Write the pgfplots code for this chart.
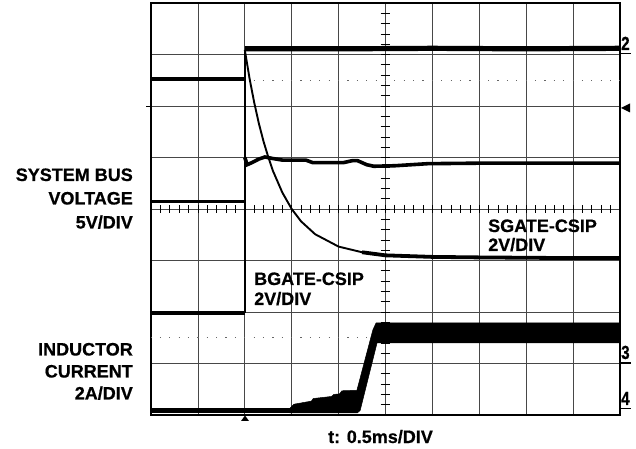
\documentclass[border=0pt]{standalone}
\usepackage{pgfplots}
\pgfplotsset{compat=1.18}
\usepackage{fontspec}
\setmainfont{Liberation Sans}
\newfontfamily\heavy[FakeBold=0.7]{Liberation Sans Bold}
\begin{document}
\begin{tikzpicture}
\useasboundingbox (0bp,0bp) rectangle (636bp,449bp);
\fill[white] (0bp,0bp) rectangle (636bp,449bp);
\begin{axis}[at={(151bp,34bp)}, anchor=south west, scale only axis,
  width=469bp, height=412bp, xmin=0, xmax=10, ymin=0, ymax=8,
  xtick={0,...,10}, ytick={0,...,8}, xticklabels={}, yticklabels={},
  major tick length=0pt, grid=major,
  major grid style={black!72, line width=0.8bp},
  axis line style={line width=1.3bp, black}, clip=false]
% dotted reference lines
\draw[black!60, line width=1.1bp, dash pattern=on 1.2bp off 8.18bp, dash phase=0.6bp] (axis cs:0,6.49) -- (axis cs:10,6.49);
\draw[black!60, line width=1.1bp, dash pattern=on 1.2bp off 8.18bp, dash phase=0.6bp] (axis cs:0,1.50) -- (axis cs:10,1.50);
% minor ticks on the centre lines
\pgfplotsinvokeforeach{1,...,49}{\draw[black, line width=0.8bp] (axis cs:0.2*#1,3.925) -- (axis cs:0.2*#1,4.075);}
\pgfplotsinvokeforeach{1,...,39}{\draw[black, line width=0.8bp] (axis cs:4.895,0.2*#1) -- (axis cs:5.105,0.2*#1);}
% trace A (top)
\addplot[black, line width=3.6bp] coordinates {(0,6.52) (2.0,6.52)};
\addplot[black, line width=5.2bp] coordinates {(2.0,7.11) (4,7.11) (6,7.12) (8,7.11) (10,7.12)};
% trace B (system bus voltage)
\addplot[black, line width=3.4bp] coordinates {(0,4.14) (2.0,4.14)};
\addplot[black, line width=2bp] coordinates {(2.0,4.14) (2.0,5.0)};
\addplot[black, line width=3.6bp] coordinates {(2.0,5.0) (2.05,4.86) (2.15,4.90) (2.3,4.97) (2.43,5.01) (2.6,4.98) (2.8,4.95) (3.3,4.95) (3.45,4.90) (4.1,4.90) (4.3,4.94) (4.4,4.94) (4.6,4.86) (4.75,4.83) (5.2,4.84) (5.9,4.88) (7,4.89) (8.5,4.89) (10,4.89)};
% trace C (BGATE-CSIP)
\addplot[black, line width=3.6bp] coordinates {(0,1.98) (2.0,1.98)};
\addplot[black, line width=2bp] coordinates {(2.0,1.98) (2.0,7.09)};
\addplot[black, line width=1.9bp] coordinates {(2.0,7.09) (2.1,6.54) (2.2,6.07) (2.3,5.66) (2.4,5.31) (2.5,5.01) (2.6,4.74) (2.8,4.32) (3.0,4.00) (3.2,3.76) (3.5,3.51) (4.0,3.27) (4.5,3.16)};
\addplot[black, line width=3.8bp] coordinates {(4.5,3.16) (5.0,3.10) (6,3.07) (7,3.06) (8.5,3.05) (10,3.05)};
% trace D (inductor current)
\addplot[black, line width=4.5bp] coordinates {(0,0.09) (2.98,0.09)};
\addplot[black, fill=black, line width=0.5bp] coordinates {(2.96,0.04) (2.96,0.13) (3.05,0.21) (3.3,0.25) (3.42,0.27) (3.46,0.32) (3.85,0.36) (3.9,0.40) (4.02,0.41) (4.07,0.47) (4.39,0.48) (4.73,1.65) (4.80,1.79) (10,1.79) (10,1.40) (4.82,1.40) (4.46,0.09) (4.40,0.04)} -- cycle;
\end{axis}
% channel markers
\tikzset{dig/.style={font=\fontsize{19bp}{19bp}\selectfont\heavy, inner sep=0pt, xscale=0.8}}
\node[dig, anchor=base west] at (621bp,399bp) {2};
\draw[line width=1.8bp] (621bp,395.5bp) -- (631bp,395.5bp);
\node[dig, anchor=base west] at (621bp,90bp) {3};
\draw[line width=1.8bp] (621bp,86bp) -- (631bp,86bp);
\node[dig, anchor=base west] at (621bp,44bp) {4};
\draw[line width=1.8bp] (621bp,40.5bp) -- (631bp,40.5bp);
\fill (621bp,341bp) -- (630bp,345.5bp) -- (630bp,336.5bp) -- cycle;
\draw[line width=1bp] (146bp,342bp) -- (151bp,342bp);
\fill (245bp,33.5bp) -- (249bp,28bp) -- (241bp,28bp) -- cycle;
% labels
\tikzset{lab/.style={font=\fontsize{18bp}{20bp}\selectfont\heavy, inner sep=0pt}}
\node[lab, anchor=base east] at (133bp,268bp) {SYSTEM BUS};
\node[lab, anchor=base east] at (133bp,244.5bp) {VOLTAGE};
\node[lab, anchor=base east] at (133bp,220.5bp) {5V/DIV};
\node[lab, anchor=base east] at (133bp,93.5bp) {INDUCTOR};
\node[lab, anchor=base east] at (133bp,71.5bp) {CURRENT};
\node[lab, anchor=base east] at (133bp,49.5bp) {2A/DIV};
\node[lab, anchor=base west] at (254bp,164bp) {BGATE-CSIP};
\node[lab, anchor=base west] at (254bp,144bp) {2V/DIV};
\node[lab, anchor=base west] at (488bp,217bp) {SGATE-CSIP};
\node[lab, anchor=base west] at (488bp,198bp) {2V/DIV};
\node[lab, anchor=base] at (380.5bp,6bp) {t: 0.5ms/DIV};
\end{tikzpicture}
\end{document}
